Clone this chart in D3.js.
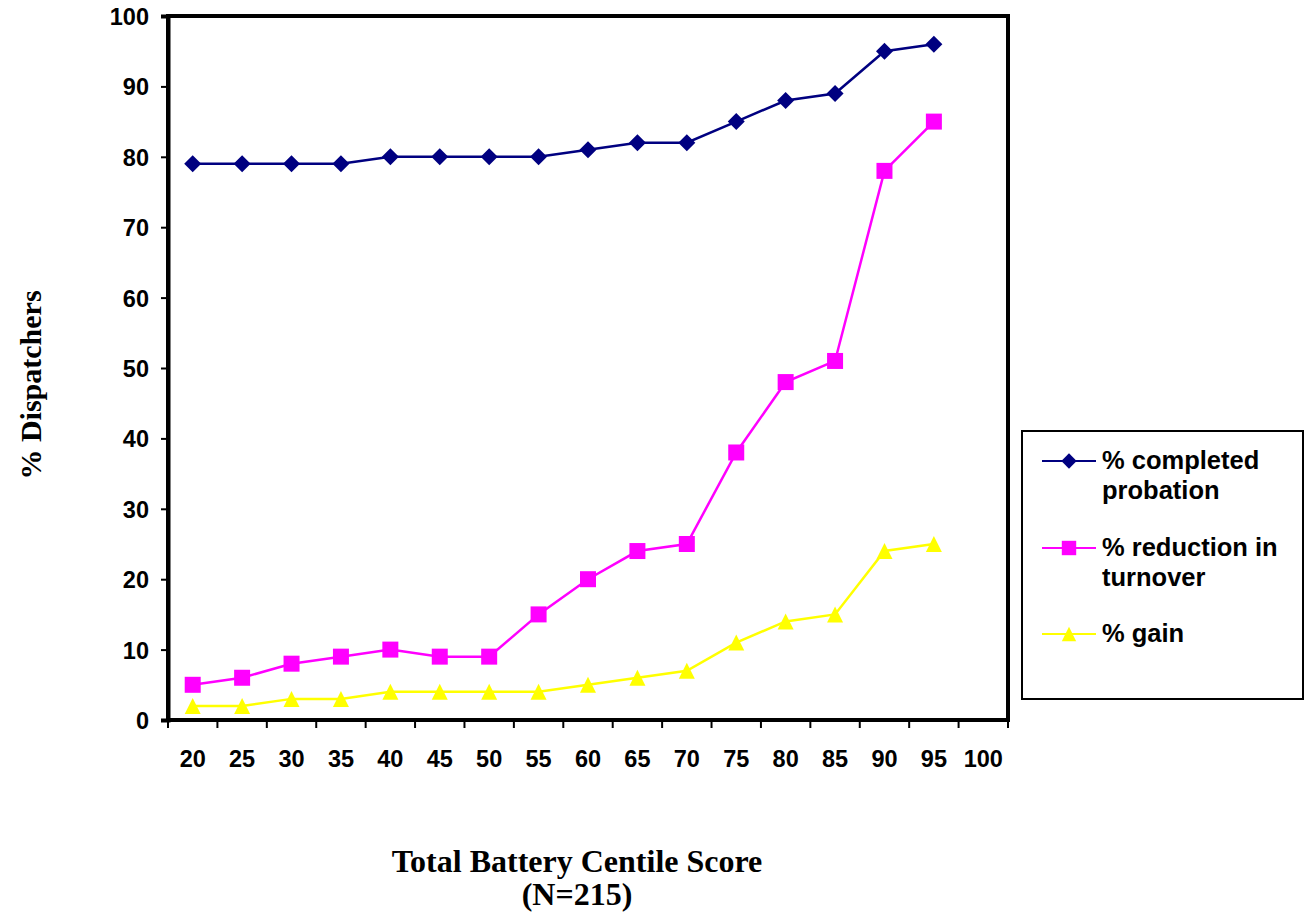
<!DOCTYPE html>
<html><head><meta charset="utf-8">
<script src="https://cdn.jsdelivr.net/npm/d3@7"></script>
<style>body{margin:0;background:#fff}</style>
</head><body>
<svg id="c" width="1307" height="916"></svg>
<script>
const categories = ["20","25","30","35","40","45","50","55","60","65","70","75","80","85","90","95","100"];
const completed = [79,79,79,79,80,80,80,80,81,82,82,85,88,89,95,96];
const reduction = [5,6,8,9,10,9,9,15,20,24,25,38,48,51,78,85];
const gain = [2,2,3,3,4,4,4,4,5,6,7,11,14,15,24,25];
const yTicks = [0,10,20,30,40,50,60,70,80,90,100];
const seriesNames = ["% completed probation","% reduction in turnover","% gain"];

const svg = d3.select("#c");
const L=168, R=1008, T=16, B=720;
const x = d3.scaleBand().domain(categories).range([L,R]);
const y = d3.scaleLinear().domain([0,100]).range([B,T]);
const SANS = "Liberation Sans, Arial, sans-serif";
const SERIF = "Liberation Serif, Times New Roman, serif";

const diamond = "M0,-8.5L8.5,0L0,8.5L-8.5,0Z";
const square = "M-8,-8H8V8H-8Z";
const triangle = "M0,-8L8,8H-8Z";

const series = [
  {name:seriesNames[0], lines:["% completed","probation"], data:completed, color:"#000080", sym:diamond},
  {name:seriesNames[1], lines:["% reduction in","turnover"], data:reduction, color:"#FF00FF", sym:square},
  {name:seriesNames[2], lines:["% gain"], data:gain, color:"#FFFF00", sym:triangle}
];

// frame
svg.append("rect").attr("x",L).attr("y",T).attr("width",R-L).attr("height",B-T)
  .attr("fill","none").attr("stroke","#000").attr("stroke-width",4);

// y axis
const ya = svg.append("g").attr("transform",`translate(${L},0)`)
  .call(d3.axisLeft(y).tickValues(yTicks).tickSize(7).tickPadding(12));
ya.select(".domain").attr("stroke-width",4);
ya.selectAll(".tick line").attr("stroke-width",2);
ya.selectAll("text").attr("font-family",SANS).attr("font-weight","bold").attr("font-size",23.5).attr("fill","#000").attr("dy","0.36em");

// x axis
const xa = svg.append("g").attr("transform",`translate(0,${B})`)
  .call(d3.axisBottom(x).tickSize(0).tickPadding(30));
xa.select(".domain").remove();
xa.selectAll("text").attr("font-family",SANS).attr("font-weight","bold").attr("font-size",23.5).attr("fill","#000");
// boundary ticks
const bounds = categories.map(c=>x(c)).concat([R]);
svg.append("g").selectAll("line").data(bounds).join("line")
  .attr("x1",d=>d).attr("x2",d=>d).attr("y1",B).attr("y2",B+8)
  .attr("stroke","#000").attr("stroke-width",2);

const cx = i => x(categories[i]) + x.bandwidth()/2;
series.forEach(s=>{
  svg.append("path").datum(s.data)
    .attr("d", d3.line().x((d,i)=>cx(i)).y(d=>y(d)))
    .attr("fill","none").attr("stroke",s.color).attr("stroke-width",2.5);
  svg.append("g").selectAll("path").data(s.data).join("path")
    .attr("d", s.sym)
    .attr("transform",(d,i)=>`translate(${cx(i)},${y(d)})`)
    .attr("fill",s.color);
});

// axis titles
svg.append("text").attr("transform","translate(41,385) rotate(-90)").attr("text-anchor","middle")
  .attr("font-family",SERIF).attr("font-weight","bold").attr("font-size",30)
  .text("% Dispatchers");
svg.append("text").attr("x",577).attr("y",872).attr("text-anchor","middle")
  .attr("font-family",SERIF).attr("font-weight","bold").attr("font-size",32)
  .text("Total Battery Centile Score");
svg.append("text").attr("x",577).attr("y",905).attr("text-anchor","middle")
  .attr("font-family",SERIF).attr("font-weight","bold").attr("font-size",32)
  .text("(N=215)");

// legend
const lg = svg.append("g");
lg.append("rect").attr("x",1022).attr("y",431).attr("width",281).attr("height",268)
  .attr("fill","#fff").attr("stroke","#000").attr("stroke-width",2);
const rowsY = [461, 548, 634];
series.forEach((s,i)=>{
  const yy = rowsY[i];
  lg.append("line").attr("x1",1042).attr("x2",1096).attr("y1",yy).attr("y2",yy)
    .attr("stroke",s.color).attr("stroke-width",2);
  lg.append("path").attr("d",s.sym).attr("transform",`translate(1069,${yy}) scale(0.9)`).attr("fill",s.color);
  s.lines.forEach((t,j)=>{
    lg.append("text").attr("x",1102).attr("y",yy+8+j*30)
      .attr("font-family",SANS).attr("font-weight","bold").attr("font-size",25.5)
      .text(t);
  });
});
</script>
</body></html>
